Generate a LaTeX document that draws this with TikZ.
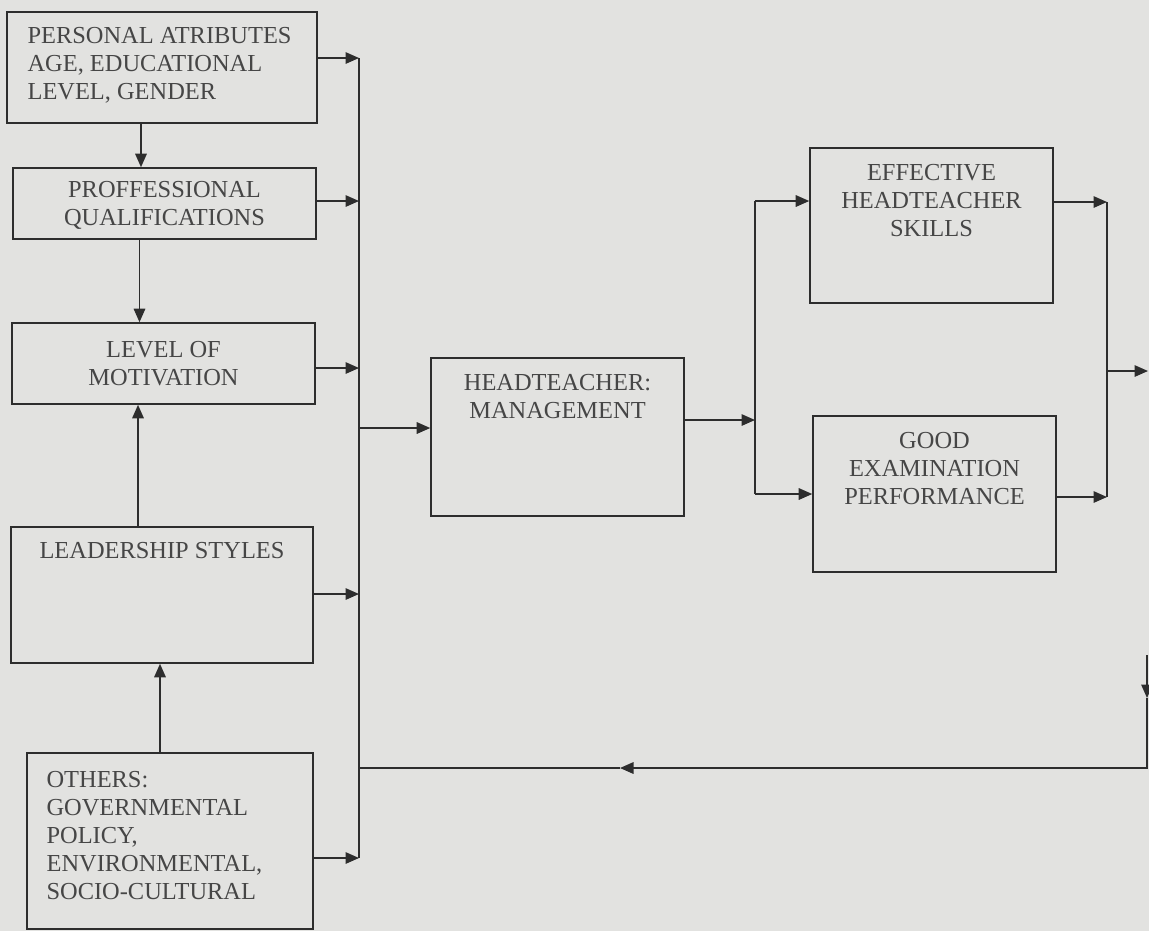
\documentclass[tikz,border=0pt]{standalone}
\usepackage{fontspec}
\setmainfont{Liberation Serif}
\usetikzlibrary{arrows.meta, positioning}
\definecolor{ScanGray}{RGB}{226,226,224}
\definecolor{InkGray}{RGB}{45,45,45}
\definecolor{TextGray}{RGB}{70,70,70}

\begin{document}
\begin{tikzpicture}[x = 0.02cm, y = -0.02cm]
\tikzstyle{BoxStyle}=[shape = rectangle,
                      draw = InkGray,
                      line width = 0.9pt,
                      inner sep = 0pt]
\tikzstyle{TextStyle}=[inner sep = 0pt,
                       text = TextGray,
                       font = \fontsize{13.9}{15.9}\selectfont]
\tikzstyle{ArrowStyle}=[draw = InkGray, line width = 0.9pt,
                        -{Triangle[length = 0.27cm, width = 0.23cm]}]
\tikzstyle{LineStyle}=[draw = InkGray, line width = 0.9pt]
\fill[ScanGray] (0,0) rectangle (1149,931);
\useasboundingbox (0,0) rectangle (1149,931);
\node[BoxStyle, minimum width = 6.20cm, minimum height = 2.22cm] (pa) at (162,67.5) {};
\node[BoxStyle, minimum width = 6.06cm, minimum height = 1.42cm] (pq) at (164.5,203.5) {};
\node[BoxStyle, minimum width = 6.06cm, minimum height = 1.62cm] (lm) at (163.5,363.5) {};
\node[BoxStyle, minimum width = 6.04cm, minimum height = 2.72cm] (ls) at (162,595) {};
\node[BoxStyle, minimum width = 5.72cm, minimum height = 3.52cm] (ot) at (170,841) {};
\node[BoxStyle, minimum width = 5.06cm, minimum height = 3.16cm] (ht) at (557.5,437) {};
\node[BoxStyle, minimum width = 4.86cm, minimum height = 3.10cm] (ef) at (931.5,225.5) {};
\node[BoxStyle, minimum width = 4.86cm, minimum height = 3.12cm] (gd) at (934.5,494) {};
\node[TextStyle, align = left, anchor = north west] (patxt) at ([xshift = 0.42cm, yshift = -0.32cm]pa.north west) {PERSONAL ATRIBUTES\\AGE, EDUCATIONAL\\LEVEL, GENDER};
\node[TextStyle, align = center] (pqtxt) at ([yshift = -0.04cm]pq.center) {PROFFESSIONAL\\QUALIFICATIONS};
\node[TextStyle, align = center] (lmtxt) at (lm.center) {LEVEL OF\\MOTIVATION};
\node[TextStyle, anchor = north] (lstxt) at ([yshift = -0.32cm]ls.north) {LEADERSHIP STYLES};
\node[TextStyle, align = left, anchor = north west] (ottxt) at ([xshift = 0.40cm, yshift = -0.38cm]ot.north west) {OTHERS:\\GOVERNMENTAL\\POLICY,\\ENVIRONMENTAL,\\SOCIO-CULTURAL};
\node[TextStyle, align = center, anchor = north] (httxt) at ([yshift = -0.34cm]ht.north) {HEADTEACHER:\\MANAGEMENT};
\node[TextStyle, align = center, anchor = north] (eftxt) at ([yshift = -0.34cm]ef.north) {EFFECTIVE\\HEADTEACHER\\SKILLS};
\node[TextStyle, align = center, anchor = north] (gdtxt) at ([yshift = -0.34cm]gd.north) {GOOD\\EXAMINATION\\PERFORMANCE};
\coordinate (b1) at (359,58);
\coordinate (b2) at (359,201);
\coordinate (b3) at (359,368);
\coordinate (b4) at (359,594);
\coordinate (b5) at (359,858);
\coordinate (bh) at (359,428);
\coordinate (bf) at (359,768);
\coordinate (c1) at (755,201);
\coordinate (c2) at (755,420);
\coordinate (c3) at (755,494);
\coordinate (d1) at (1107,202);
\coordinate (d2) at (1107,371);
\coordinate (d3) at (1107,497);
\coordinate (e1) at (1148,371);
\coordinate (r1) at (1147,655);
\coordinate (r2) at (1147,698);
\coordinate (r3) at (1147,768);
\coordinate (fa) at (620,768);
\draw[ArrowStyle] ([xshift = -0.42cm]pa.south) -- ([xshift = -0.42cm]pa.south |- pq.north);
\draw[ArrowStyle] ([xshift = -0.50cm]pq.south) -- ([xshift = -0.50cm]pq.south |- lm.north);
\draw[ArrowStyle] ([xshift = -0.48cm]ls.north) -- ([xshift = -0.48cm]ls.north |- lm.south);
\draw[ArrowStyle] ([xshift = -0.20cm]ot.north) -- ([xshift = -0.20cm]ot.north |- ls.south);
\draw[LineStyle] (b1) -- (b5);
\draw[ArrowStyle] (pa.east |- b1) -- (b1);
\draw[ArrowStyle] (pq.east |- b2) -- (b2);
\draw[ArrowStyle] (lm.east |- b3) -- (b3);
\draw[ArrowStyle] (ls.east |- b4) -- (b4);
\draw[ArrowStyle] (ot.east |- b5) -- (b5);
\draw[ArrowStyle] (bh) -- (ht.west |- bh);
\draw[ArrowStyle] (ht.east |- c2) -- (c2);
\draw[LineStyle] (c1) -- (c3);
\draw[ArrowStyle] (c1) -- (ef.west |- c1);
\draw[ArrowStyle] (c3) -- (gd.west |- c3);
\draw[ArrowStyle] (ef.east |- d1) -- (d1);
\draw[ArrowStyle] (gd.east |- d3) -- (d3);
\draw[LineStyle] (d1) -- (d3);
\draw[ArrowStyle] (d2) -- (e1);
\draw[ArrowStyle] (r1) -- (r2);
\draw[ArrowStyle] (r2) -- (r3) -- (fa);
\draw[LineStyle] (fa) -- (bf);
\end{tikzpicture}
\end{document}
